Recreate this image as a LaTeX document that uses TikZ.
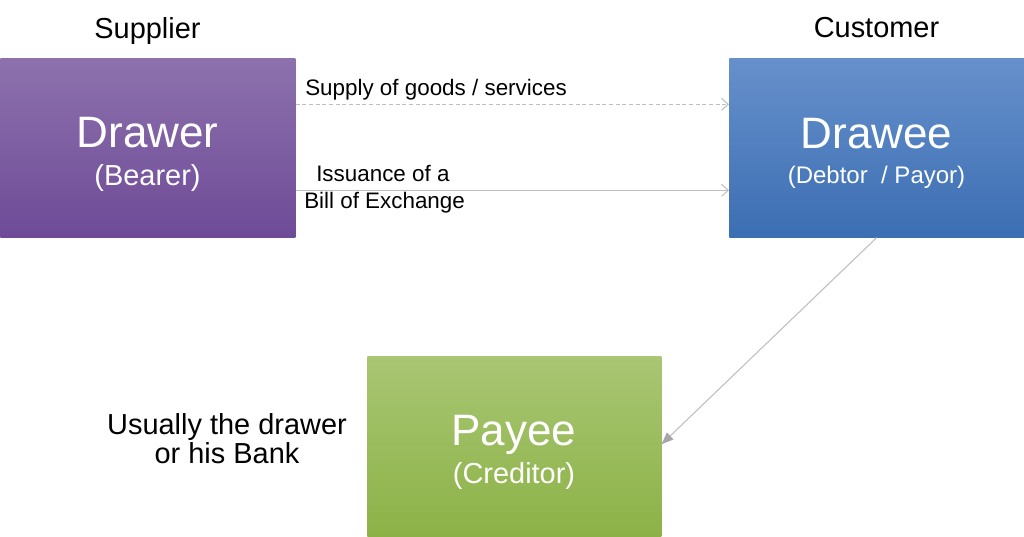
\documentclass[tikz,border=0pt]{standalone}
\usepackage{fontspec}
\setmainfont{Liberation Sans}
\usetikzlibrary{arrows.meta}
\definecolor{drawertop}{HTML}{8D71AD}
\definecolor{drawerbot}{HTML}{6E4B97}
\definecolor{draweetop}{HTML}{6690CB}
\definecolor{draweebot}{HTML}{3C6EB3}
\definecolor{payeetop}{HTML}{A9C673}
\definecolor{payeebot}{HTML}{8CB247}
\definecolor{linegray}{HTML}{BFBFBF}
\definecolor{headgray}{HTML}{A6A6A6}
\begin{document}
\begin{tikzpicture}[x=0.75pt,y=-0.75pt,
  box/.style={rectangle, inner sep=0pt, anchor=north west, minimum width=221.25pt, minimum height=134.25pt},
  bigtxt/.style={anchor=base, text=white, inner sep=0pt, font=\fontsize{33}{38}\selectfont},
  subtxt/.style={anchor=base, text=white, inner sep=0pt, font=\fontsize{21.7}{26}\selectfont},
  headtxt/.style={anchor=base, text=black, inner sep=0pt, font=\fontsize{21.7}{26}\selectfont},
  smalltxt/.style={anchor=base west, text=black, inner sep=0pt, font=\fontsize{16.8}{20}\selectfont},
  openarrow/.style={draw=linegray, line width=0.8pt, -{Straight Barb[length=5pt,width=9pt]}},
  filledarrow/.style={draw=linegray, line width=0.8pt, -{Triangle[length=9pt,width=7pt,color=headgray,fill=headgray]}}
]
\useasboundingbox (0,0) rectangle (1024,536);

% boxes
\node[box, top color=drawertop, bottom color=drawerbot] (drawer) at (0,58) {};
\node[box, top color=draweetop, bottom color=draweebot] (drawee) at (729,58) {};
\node[box, top color=payeetop, bottom color=payeebot, minimum width=220.5pt, minimum height=135pt] (payee) at (367,356) {};

% box texts
\node[bigtxt] (drawert) at (147.5,147) {Drawer};
\node[subtxt] (drawers) at (147.5,185) {(Bearer)};
\node[bigtxt] (draweet) at (876.5,148) {Drawee};
\node[subtxt, font=\fontsize{18}{22}\selectfont] (draweesub) at (876.5,183) {(Debtor \ / Payor)};
\node[bigtxt] (payeet) at (514,445) {Payee};
\node[subtxt] (payees) at (514,483) {(Creditor)};

% headings
\node[headtxt] (supplier) at (147.5,38.5) {Supplier};
\node[headtxt] (customer) at (876.5,37.5) {Customer};
\node[headtxt, align=center, font=\fontsize{21.7}{20}\selectfont] (usually) at (227,463) {Usually the drawer\\or his Bank};

% connector labels
\node[smalltxt] (supply) at (305,95) {Supply of goods / services};
\node[smalltxt] (issu) at (316,181) {Issuance of a};
\node[smalltxt] (bill) at (304,208) {Bill of Exchange};

% connectors
\draw[openarrow, dash pattern=on 3pt off 2pt] ([yshift=32.6pt]drawer.east) -- ([yshift=32.6pt]drawee.west);
\draw[openarrow] ([yshift=-31.9pt]drawer.east) -- ([yshift=-31.9pt]drawee.west);
\draw[filledarrow] (drawee.south) -- ([yshift=1.5pt]payee.east);
\end{tikzpicture}
\end{document}
